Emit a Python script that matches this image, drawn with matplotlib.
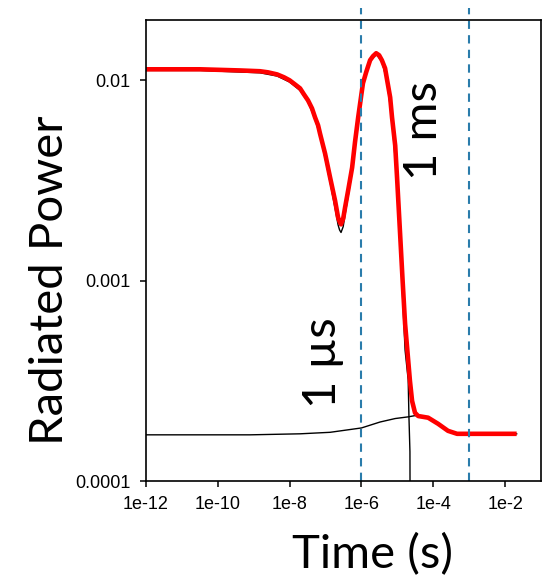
import matplotlib.pyplot as plt

# total radiated power (red)
t_total = [1e-12, 3.2e-11, 4.2e-10, 1.5e-9, 2.5e-9, 4.5e-9, 7.0e-9, 1.0e-8, 1.4e-8, 1.95e-8,
           2.5e-8, 3.25e-8, 4.2e-8, 5.1e-8, 6.2e-8, 7.0e-8, 9.7e-8, 1.34e-7, 1.84e-7, 2.23e-7,
           2.46e-7, 2.7e-7, 3.1e-7, 3.5e-7, 4.26e-7, 5.5e-7, 6.6e-7, 8.1e-7, 1.1e-6, 1.35e-6,
           1.74e-6, 2.1e-6, 2.57e-6, 3.1e-6, 3.7e-6, 4.55e-6, 5.1e-6, 6.3e-6, 7.1e-6, 8.7e-6,
           9.8e-6, 1.19e-5, 1.4e-5, 1.64e-5, 2.24e-5, 2.57e-5, 3.1e-5, 3.8e-5, 7.2e-5, 1.36e-4,
           2.57e-4, 4.6e-4, 2.1e-2]
p_total = [0.01135, 0.01135, 0.0112, 0.0111, 0.01096, 0.0107, 0.01035, 0.0100, 0.00955, 0.00912,
           0.00851, 0.00794, 0.00724, 0.00653, 0.00596, 0.00543, 0.00431, 0.00327, 0.00251, 0.00207,
           0.00197, 0.00191, 0.00204, 0.00232, 0.00282, 0.00367, 0.0049, 0.00653, 0.00966, 0.01096,
           0.0126, 0.0132, 0.01365, 0.01334, 0.0126, 0.01148, 0.0102, 0.00822, 0.00653, 0.00473,
           0.00327, 0.00172, 0.0010, 6.1e-4, 3.16e-4, 2.51e-4, 2.19e-4, 2.11e-4, 2.07e-4, 1.93e-4,
           1.78e-4, 1.72e-4, 1.72e-4]

# fast component (black, drops to zero after ~20 us)
t_fast = [1e-12, 3.2e-11, 4.2e-10, 1.5e-9, 4.5e-9, 1.0e-8, 1.95e-8, 3.25e-8, 5.1e-8, 7.0e-8,
          9.7e-8, 1.34e-7, 1.84e-7, 2.23e-7, 2.46e-7, 2.7e-7, 3.1e-7, 3.5e-7, 4.26e-7, 5.5e-7,
          8.1e-7, 1.1e-6, 1.74e-6, 2.57e-6, 3.7e-6, 5.1e-6, 7.1e-6, 9.8e-6, 1.19e-5, 1.64e-5,
          2.0e-5, 2.1e-5, 2.24e-5, 2.4e-5]
p_fast = [0.0112, 0.0112, 0.0110, 0.0109, 0.0105, 0.0098, 0.0089, 0.0078, 0.0064, 0.0053,
          0.0041, 0.0031, 0.0023, 0.00190, 0.00179, 0.00174, 0.00186, 0.00214, 0.00264, 0.00349,
          0.0063, 0.0095, 0.0124, 0.0135, 0.0124, 0.0100, 0.0063, 0.0031, 0.00155, 4.5e-4,
          3.2e-4, 2.1e-4, 1.4e-4, 1e-6]

# slow background component (black)
t_slow = [1e-12, 7.9e-10, 1.95e-8, 1.34e-7, 1e-6, 3.3e-6, 8.7e-6, 2.0e-5, 3.1e-5, 3.8e-5,
          7.2e-5, 1.36e-4, 2.57e-4, 4.6e-4, 2.1e-2]
p_slow = [1.70e-4, 1.70e-4, 1.72e-4, 1.75e-4, 1.84e-4, 1.97e-4, 2.05e-4, 2.09e-4, 2.12e-4, 2.11e-4,
          2.07e-4, 1.93e-4, 1.78e-4, 1.72e-4, 1.72e-4]

marks = [1e-6, 1e-3]
mark_labels = ["1 µs", "1 ms"]

xticks = [1e-12, 1e-10, 1e-8, 1e-6, 1e-4, 1e-2]
xticklabels = ["1e-12", "1e-10", "1e-8", "1e-6", "1e-4", "1e-2"]
yticks = [1e-4, 1e-3, 1e-2]
yticklabels = ["0.0001", "0.001", "0.01"]

fig = plt.figure(figsize=(5.46, 5.82), dpi=100)
ax = fig.add_axes([146/546, 1 - 481/582, 395/546, 461/582])

ax.plot(t_fast, p_fast, color="black", lw=1.0)
ax.plot(t_slow, p_slow, color="black", lw=1.0)
ax.plot(t_total, p_total, color="red", lw=3.3, solid_joinstyle="round", solid_capstyle="butt")

for m in marks:
    ax.axvline(m, ymin=0, ymax=1.026, color="#2a7cab", lw=1.5, ls=(0, (4, 3)), clip_on=False)

ax.set_xscale("log")
ax.set_yscale("log")
ax.set_xlim(1e-12, 1e-1)
ax.set_ylim(1e-4, 0.02)
ax.set_xticks(xticks)
ax.set_xticklabels(xticklabels)
ax.set_yticks(yticks)
ax.set_yticklabels(yticklabels)
ax.minorticks_off()
ax.tick_params(labelsize=13, length=4, width=1.1, pad=7, color="black")
for lbl in ax.get_xticklabels() + ax.get_yticklabels():
    lbl.set_fontfamily("Liberation Sans")
for s in ax.spines.values():
    s.set_linewidth(1.2)

big = dict(family="Lato", fontsize=34)
fig.text(323/546, 1 - 363/582, mark_labels[0], rotation=90, ha="center", va="center", **big)
fig.text(424/546, 1 - 130/582, mark_labels[1], rotation=90, ha="center", va="center", **big)
fig.text(50/546, 1 - 280/582, "Radiated Power", rotation=90, ha="center", va="center", **big)
fig.text(372/546, 1 - 555/582, "Time (s)", ha="center", va="center", **big)

fig.savefig("out.png", dpi=100)
